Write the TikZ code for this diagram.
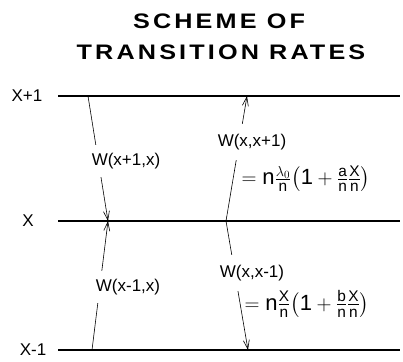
\documentclass[tikz,border=0pt]{standalone}
\usepackage{amsmath}
\usepackage{fontspec}
\setmainfont{Liberation Sans}
\newfontfamily\titlefont[LetterSpace=15,FakeStretch=1.2]{Liberation Sans}
\usepackage{tikz}
\usetikzlibrary{arrows.meta}

\begin{document}
\begin{tikzpicture}[x=1pt,y=-1pt,
    ttl/.style={font=\titlefont\bfseries\fontsize{21}{21}\selectfont,inner sep=0pt},
    lvl/.style={font=\fontsize{17}{17}\selectfont,inner sep=0pt},
    rate/.style={font=\fontsize{17}{17}\selectfont,fill=white,inner xsep=1pt,inner ysep=8pt},
    eqn/.style={font=\fontsize{22}{22}\selectfont,inner sep=0pt},
    lvlline/.style={line width=1.3pt},
    trans/.style={semithick,-{Straight Barb[length=9pt,width=6pt]}}]
  \useasboundingbox (0,0) rectangle (403,361);
  \node[ttl](t1) at (219,21){SCHEME OF};
  \node[ttl](t2) at (221,52){TRANSITION RATES};
  % levels
  \node[lvl](xp) at (27,96){X+1};
  \node[lvl](x0) at (28,221){X};
  \node[lvl](xm) at (33,350){X-1};
  \coordinate(xpL) at (58,96);  \coordinate(xpR) at (400,96);
  \coordinate(x0L) at (58,221); \coordinate(x0R) at (400,221);
  \coordinate(xmL) at (58,350); \coordinate(xmR) at (400,350);
  \draw[lvlline](xpL)--(xpR);
  \draw[lvlline](x0L)--(x0R);
  \draw[lvlline](xmL)--(xmR);
  % transitions
  \coordinate(a) at (88,96);
  \coordinate(b) at (108,221);
  \coordinate(c) at (92,350);
  \coordinate(d) at (226,221);
  \coordinate(e) at (247,96);
  \coordinate(f) at (248,350);
  \draw[trans](a)--(b);
  \draw[trans](c)--(b);
  \draw[trans](d)--(e);
  \draw[trans](d)--(f);
  \node[rate](w1) at (126,161){W(x+1,x)};
  \node[rate](w2) at (128,287){W(x-1,x)};
  \node[rate,inner ysep=10pt](w3) at (252,142){W(x,x+1)};
  \node[rate,inner ysep=10pt](w4) at (252,273){W(x,x-1)};
  \node[eqn](e1) at (306,179){$=\text{n}\frac{\lambda_0}{\text{n}}\bigl(\text{1}+\frac{\text{a}}{\text{n}}\frac{\text{X}}{\text{n}}\bigr)$};
  \node[eqn](e2) at (307,304){$=\text{n}\frac{\text{X}}{\text{n}}\bigl(\text{1}+\frac{\text{b}}{\text{n}}\frac{\text{X}}{\text{n}}\bigr)$};
\end{tikzpicture}
\end{document}
